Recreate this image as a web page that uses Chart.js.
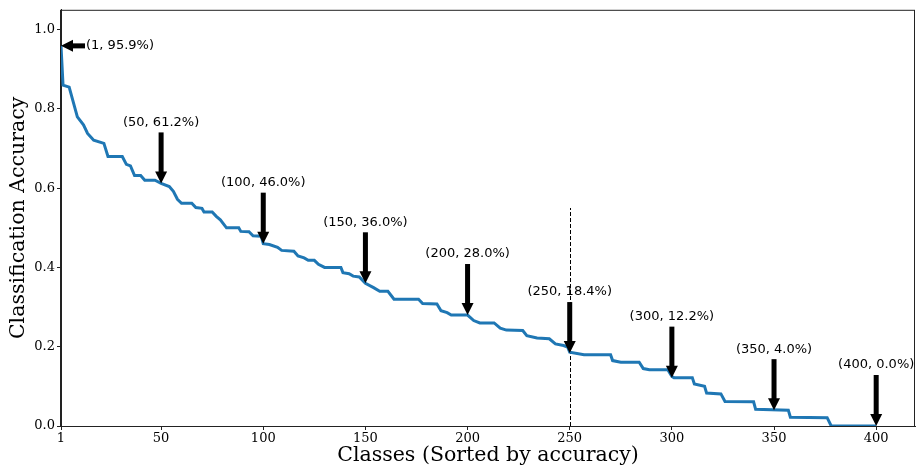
<!DOCTYPE html>
<html>
<head>
<meta charset="utf-8">
<script src="https://cdn.jsdelivr.net/npm/chart.js@4.4.0/dist/chart.umd.min.js"></script>
<style>
  html, body { margin: 0; padding: 0; background: #fff; }
</style>
</head>
<body>
<canvas id="myChart" width="916" height="468"></canvas>
<script>
// corners of the sorted accuracy curve
const classIdx = [1, 2, 5, 9, 12, 14, 17, 22, 24, 31, 33, 35, 37, 40, 42, 47, 50, 54, 56, 58,
  60, 65, 67, 70, 71, 75, 77, 79, 82, 88, 89, 93, 95, 99, 100, 103, 107, 109, 115, 117,
  120, 122, 125, 127, 130, 138, 139, 142, 144, 147, 150, 154, 157, 161, 164, 176, 178, 185, 187, 190,
  192, 200, 203, 206, 213, 216, 219, 227, 229, 234, 240, 243, 247, 249, 250, 257, 270, 271, 275, 284,
  286, 289, 298, 300, 301, 310, 311, 316, 317, 324, 326, 340, 341, 357, 358, 376, 378, 400];
const accuracy = [0.959, 0.86, 0.855, 0.78, 0.76, 0.738, 0.721, 0.713, 0.68, 0.68, 0.66, 0.656, 0.632, 0.632, 0.62, 0.62, 0.612, 0.604, 0.592, 0.572,
  0.562, 0.562, 0.551, 0.549, 0.54, 0.54, 0.529, 0.52, 0.5, 0.5, 0.491, 0.49, 0.48, 0.479, 0.46, 0.458, 0.451, 0.443, 0.441, 0.429,
  0.424, 0.418, 0.418, 0.408, 0.4, 0.4, 0.387, 0.384, 0.378, 0.376, 0.36, 0.349, 0.34, 0.34, 0.32, 0.32, 0.309, 0.308, 0.291, 0.286,
  0.28, 0.28, 0.266, 0.26, 0.26, 0.247, 0.242, 0.241, 0.228, 0.222, 0.22, 0.207, 0.203, 0.199, 0.186, 0.18, 0.18, 0.165, 0.161, 0.161,
  0.145, 0.142, 0.142, 0.125, 0.122, 0.122, 0.106, 0.1, 0.083, 0.081, 0.062, 0.061, 0.042, 0.04, 0.022, 0.021, 0, 0];

const xTicks = [1, 50, 100, 150, 200, 250, 300, 350, 400];
const yTicks = [0, 0.2, 0.4, 0.6, 0.8, 1.0];

// annotated points
const markX = [1, 50, 100, 150, 200, 250, 300, 350, 400];
const markY = [0.959, 0.612, 0.46, 0.36, 0.28, 0.184, 0.122, 0.04, 0.0];
const markLabel = ["(1, 95.9%)", "(50, 61.2%)", "(100, 46.0%)", "(150, 36.0%)", "(200, 28.0%)",
  "(250, 18.4%)", "(300, 12.2%)", "(350, 4.0%)", "(400, 0.0%)"];

const cutX = 250;
const cutTop = 0.55;

function arrowDown(ctx, tx, ty) {
  ctx.fillRect(tx - 2.5, ty - 51, 5, 40);
  ctx.beginPath();
  ctx.moveTo(tx - 6, ty - 12);
  ctx.lineTo(tx + 6, ty - 12);
  ctx.lineTo(tx, ty);
  ctx.closePath();
  ctx.fill();
}

function arrowLeft(ctx, tx, ty) {
  ctx.fillRect(tx + 11, ty - 2.5, 13, 5);
  ctx.beginPath();
  ctx.moveTo(tx + 12, ty - 6);
  ctx.lineTo(tx + 12, ty + 6);
  ctx.lineTo(tx, ty);
  ctx.closePath();
  ctx.fill();
}

const decor = {
  id: "decor",
  beforeDatasetsDraw(chart) {
    const { ctx, scales } = chart;
    const px = Math.round(scales.x.getPixelForValue(cutX)) + 0.5;
    ctx.save();
    ctx.strokeStyle = "#000";
    ctx.lineWidth = 1;
    ctx.setLineDash([4, 2]);
    ctx.beginPath();
    ctx.moveTo(px, scales.y.getPixelForValue(0));
    ctx.lineTo(px, scales.y.getPixelForValue(cutTop));
    ctx.stroke();
    ctx.restore();
  },
  afterDatasetsDraw(chart) {
    const { ctx, scales, chartArea } = chart;
    ctx.save();
    ctx.fillStyle = "#000";
    ctx.font = "13px 'DejaVu Sans'";
    ctx.textBaseline = "middle";
    markX.forEach((mx, i) => {
      const tx = scales.x.getPixelForValue(mx);
      const ty = scales.y.getPixelForValue(markY[i]);
      if (i === 0) {
        arrowLeft(ctx, tx, ty);
        ctx.textAlign = "left";
        ctx.fillText(markLabel[i], tx + 25, ty);
      } else {
        arrowDown(ctx, tx, ty);
        ctx.textAlign = "center";
        ctx.fillText(markLabel[i], tx, ty - 61);
      }
    });
    // frame
    ctx.strokeStyle = "#222";
    ctx.lineWidth = 1;
    ctx.strokeRect(chartArea.left - 0.5, chartArea.top + 0.5,
      chartArea.right - chartArea.left, chartArea.bottom - chartArea.top);
    ctx.restore();
  }
};

Chart.defaults.font.family = "'DejaVu Serif'";
Chart.defaults.color = "#000";

const ctx = document.getElementById("myChart");
new Chart(ctx, {
  type: "line",
  data: {
    datasets: [
      {
        data: classIdx.map((c, i) => ({ x: c, y: accuracy[i] })),
        borderColor: "#1f77b4",
        borderWidth: 3,
        pointRadius: 0,
        tension: 0,
        fill: false,
      },
    ],
  },
  options: {
    responsive: false,
    animation: false,
    layout: { padding: { top: 7, right: 1, left: 0, bottom: 0 } },
    plugins: { legend: { display: false }, tooltip: { enabled: false } },
    scales: {
      x: {
        type: "linear",
        min: 1,
        max: 419,
        afterBuildTicks: (scale) => {
          scale.ticks = xTicks.map((v) => ({ value: v }));
        },
        afterFit: (scale) => {
          scale.height = 42;
        },
        grid: { drawOnChartArea: false, tickLength: 4, tickColor: "#222" },
        border: { color: "#222" },
        ticks: { font: { size: 13 }, padding: 1, maxRotation: 0, autoSkip: false },
        title: {
          display: true,
          text: "Classes (Sorted by accuracy)",
          font: { size: 20.5 },
          padding: { top: 0, bottom: 0 },
        },
      },
      y: {
        min: 0,
        max: 1.05,
        afterBuildTicks: (scale) => {
          scale.ticks = yTicks.map((v) => ({ value: v }));
        },
        afterFit: (scale) => {
          scale.width = 61;
        },
        grid: { drawOnChartArea: false, tickLength: 4, tickColor: "#222" },
        border: { color: "#222" },
        ticks: {
          font: { size: 13 },
          padding: 2,
          callback: (v) => Number(v).toFixed(1),
        },
        title: {
          display: true,
          text: "Classification Accuracy",
          font: { size: 20.5 },
          padding: { top: 6, bottom: 0 },
        },
      },
    },
  },
  plugins: [decor],
});
</script>
</body>
</html>
